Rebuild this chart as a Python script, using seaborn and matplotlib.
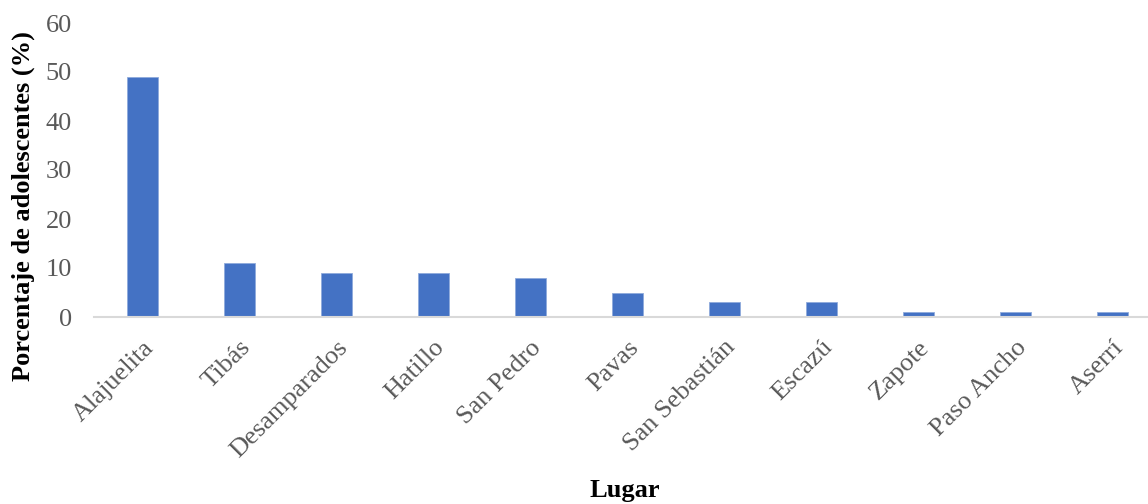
import matplotlib
matplotlib.use("Agg")
import matplotlib.pyplot as plt
import seaborn as sns
import pandas as pd

lugares = ["Alajuelita", "Tibás", "Desamparados", "Hatillo", "San Pedro", "Pavas",
           "San Sebastián", "Escazú", "Zapote", "Paso Ancho", "Aserrí"]
porcentajes = [49, 11, 9, 9, 8, 5, 3, 3, 1, 1, 1]
y_ticks = [0, 10, 20, 30, 40, 50, 60]

sns.set_theme(style="white")
plt.rcParams["font.family"] = ["Liberation Serif", "DejaVu Serif"]

df = pd.DataFrame({"Lugar": lugares, "Porcentaje": porcentajes})

W, H = 1148, 504
fig = plt.figure(figsize=(W / 100, H / 100), dpi=100)
ax = fig.add_axes([94 / W, 1 - 317 / H, 1067 / W, (317 - 23) / H])

sns.barplot(data=df, x="Lugar", y="Porcentaje", color="#4472C4", width=0.31,
            saturation=1, ax=ax, edgecolor="#8FAADC", linewidth=0.6)

ax.set_ylim(0, 60)
ax.set_yticks(y_ticks)
ax.set_yticklabels([str(t) for t in y_ticks], fontsize=19, color="#595959")
ax.set_xlim(-0.5, len(lugares) - 0.5)
ax.set_xticks(range(len(lugares)))
ax.set_xticklabels(lugares, rotation=45, ha="right", rotation_mode="anchor",
                   fontsize=19, color="#595959")
ax.tick_params(axis="y", length=0, pad=16)
ax.tick_params(axis="x", length=0, pad=14)

for side in ["top", "right", "left"]:
    ax.spines[side].set_visible(False)
ax.spines["bottom"].set_color("#D9D9D9")
ax.spines["bottom"].set_linewidth(1.5)

ax.set_ylabel("")
ax.set_xlabel("")
fig.text(23 / W, 1 - 206 / H, "Porcentaje de adolescentes (%)", rotation=90,
         fontsize=19, fontweight="bold", color="black", ha="center", va="center")
fig.text(625 / W, 1 - 490 / H, "Lugar", fontsize=19, fontweight="bold",
         color="black", ha="center", va="center")

fig.savefig("out.png", dpi=100)
